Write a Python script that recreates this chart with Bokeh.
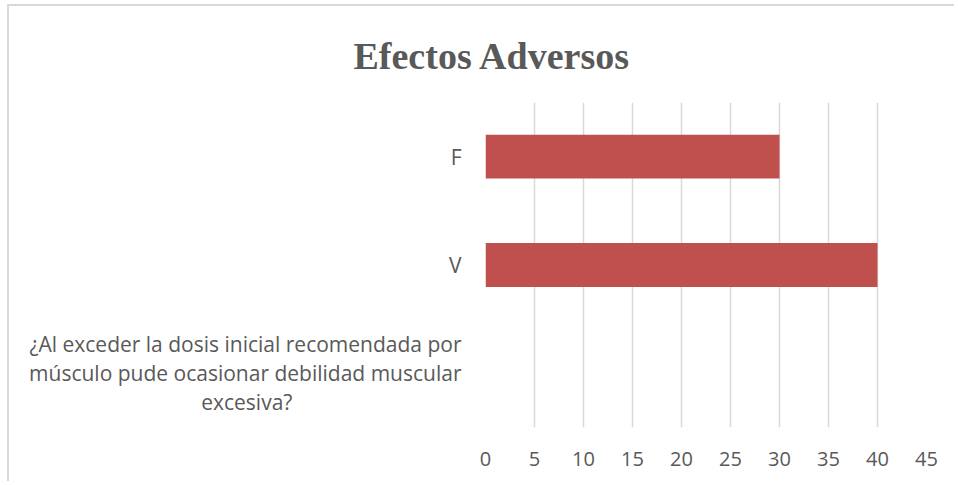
from bokeh.plotting import figure
from bokeh.models import Range1d, FixedTicker
from bokeh.embed import file_html
from bokeh.resources import INLINE

# ---- data ----
title_text = "Efectos Adversos"
question_lines = [
    "¿Al exceder la dosis inicial recomendada por",
    "músculo pude ocasionar debilidad muscular",
    "excesiva?",
]
question = " ".join(question_lines)
categories = [question, "V", "F"]
values = [0, 40, 30]
x_ticks = [0, 5, 10, 15, 20, 25, 30, 35, 40, 45]

TEXT = "#595959"
GRID = "#d9d9d9"
BAR = "#c0504d"

# category slots (bottom to top)
y_pos = [i + 0.5 for i in range(len(categories))]
# wrapped label: short last line padded with no-break spaces so it sits centred
NBSP = "\u00a0"
wrapped = "\n".join(question_lines[:-1] + [question_lines[-1] + NBSP * 31])
y_labels = [wrapped] + categories[1:]

p = figure(
    width=947, height=477,
    y_range=Range1d(0, len(categories)),
    x_range=Range1d(0, 45),
    output_backend="svg", toolbar_location=None, tools="",
    min_border_left=476, min_border_right=30,
    min_border_top=96, min_border_bottom=56,
)
p.styles = {"border-top": "2px solid #d9d9d9", "border-left": "2px solid #d9d9d9",
            "margin-left": "7px", "margin-top": "4px"}
p.outline_line_color = None
p.background_fill_color = "white"
p.border_fill_color = "white"

p.hbar(y=y_pos, right=values, left=0, height=0.405,
       fill_color=BAR, line_color=None)

# title
p.title.text = title_text
p.title.align = "left"
p.title.offset = -132
p.title.vertical_align = "bottom"
p.title.standoff = 52
p.title.text_font = "Liberation Serif"
p.title.text_font_style = "bold"
p.title.text_font_size = "38px"
p.title.text_color = TEXT

# x axis
p.xaxis.ticker = FixedTicker(ticks=x_ticks)
p.xaxis.axis_line_color = None
p.xaxis.major_tick_line_color = None
p.xaxis.minor_tick_line_color = None
p.xaxis.major_label_standoff = 18
p.xaxis.major_label_text_font = "Open Sans"
p.xaxis.major_label_text_font_size = "20px"
p.xaxis.major_label_text_color = TEXT

# y axis (category names as tick labels, long one wrapped)
p.yaxis.ticker = FixedTicker(ticks=y_pos)
p.yaxis.major_label_overrides = {y: c for y, c in zip(y_pos, y_labels)}
p.yaxis.axis_line_color = None
p.yaxis.major_tick_line_color = None
p.yaxis.minor_tick_line_color = None
p.yaxis.major_label_standoff = 18
p.yaxis.major_label_text_font = "Open Sans"
p.yaxis.major_label_text_font_size = "21px"
p.yaxis.major_label_text_line_height = 1.03
p.yaxis.major_label_text_color = TEXT

p.xgrid.grid_line_color = GRID
p.xgrid.grid_line_width = 1.5
p.ygrid.grid_line_color = None

open("out.html", "w").write(file_html(p, INLINE))
